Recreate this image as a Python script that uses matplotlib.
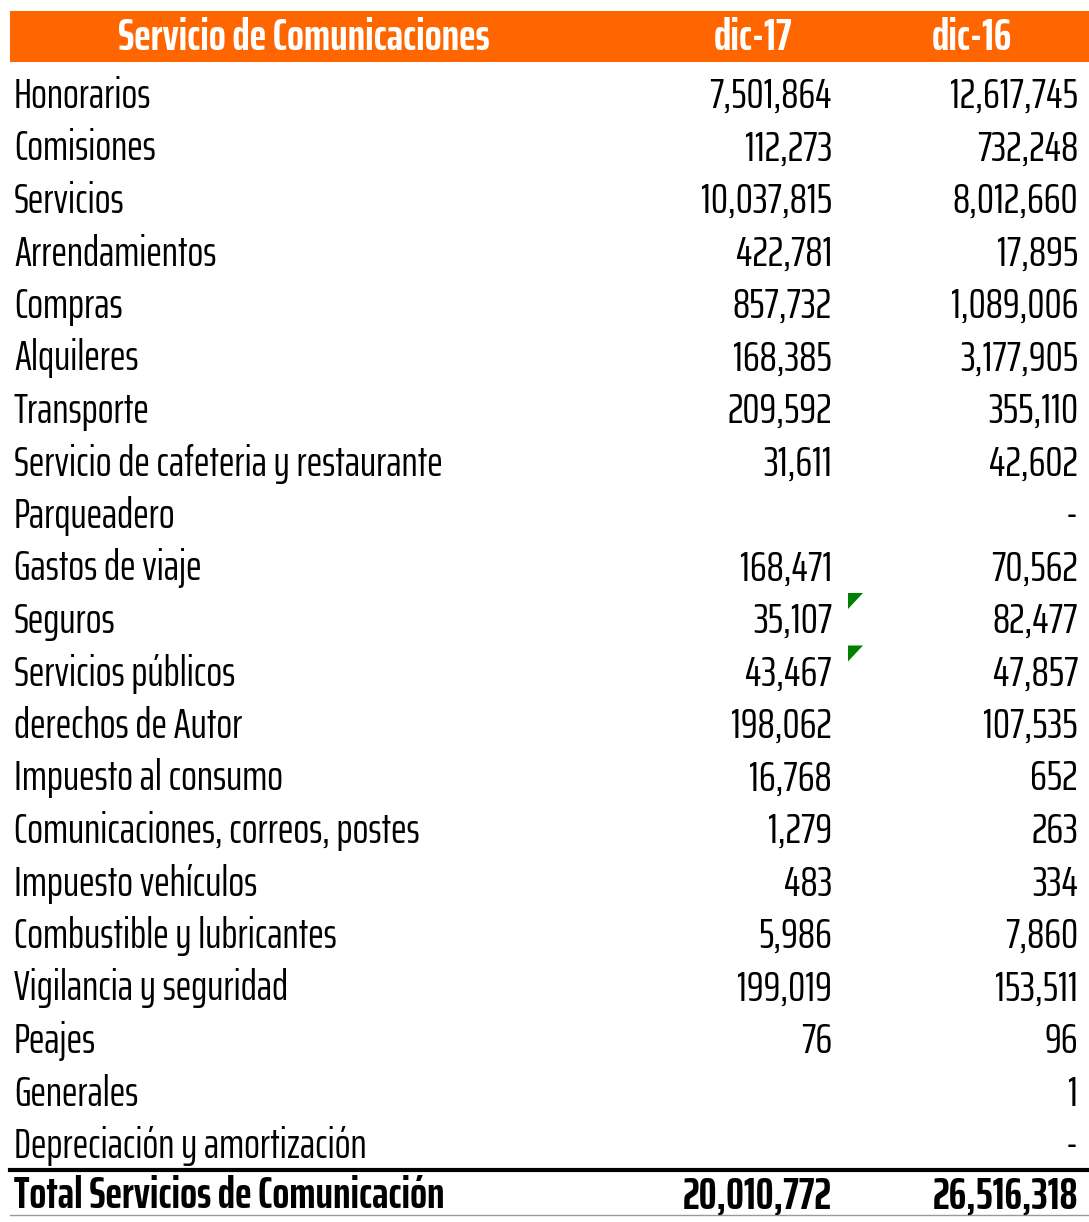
import matplotlib.pyplot as plt
from matplotlib.patches import Rectangle, Polygon

# Table data
title = "Servicio de Comunicaciones"
periods = ["dic-17", "dic-16"]
concepts = [
    "Honorarios", "Comisiones", "Servicios", "Arrendamientos", "Compras",
    "Alquileres", "Transporte", "Servicio de cafeteria y restaurante",
    "Parqueadero", "Gastos de viaje", "Seguros", "Servicios públicos",
    "derechos de Autor", "Impuesto al consumo",
    "Comunicaciones, correos, postes", "Impuesto vehículos",
    "Combustible y lubricantes", "Vigilancia y seguridad", "Peajes",
    "Generales", "Depreciación y amortización",
]
# None = blank cell, 0 = shown as "-"
dic17 = [7501864, 112273, 10037815, 422781, 857732, 168385, 209592, 31611,
         None, 168471, 35107, 43467, 198062, 16768, 1279, 483, 5986, 199019,
         76, None, None]
dic16 = [12617745, 732248, 8012660, 17895, 1089006, 3177905, 355110, 42602,
         0, 70562, 82477, 47857, 107535, 652, 263, 334, 7860, 153511,
         96, 1, 0]
total_label = "Total Servicios de Comunicación"
totals = [20010772, 26516318]
flagged = ["Seguros", "Servicios públicos"]  # cells with comment marker

plt.rcParams["font.family"] = ["Saira ExtraCondensed", "PT Sans Narrow", "DejaVu Sans"]

W, H = 1089, 1222
fig = plt.figure(figsize=(W / 100, H / 100), dpi=100)
ax = fig.add_axes([0, 0, 1, 1])
ax.set_xlim(0, W)
ax.set_ylim(H, 0)
ax.axis("off")


def fmt(v):
    if v is None:
        return ""
    if v == 0:
        return "-"
    return f"{v:,}"


fs = 30      # body rows
fsn = 31     # numbers
fsb = 32     # bold header / total

# header band
ax.add_patch(Rectangle((10, 11), W - 10, 51, color="#FF6600", lw=0))
ax.text(304, 34, title, color="white", fontsize=fsb, fontweight="bold",
        ha="center", va="center_baseline")
ax.text(753, 34, periods[0], color="white", fontsize=fsb, fontweight="bold",
        ha="center", va="center_baseline")
ax.text(972, 34, periods[1], color="white", fontsize=fsb, fontweight="bold",
        ha="center", va="center_baseline")

x17, x16 = 832, 1078
row0, step = 92, 52.5
for i, name in enumerate(concepts):
    y = row0 + step * i
    ax.text(14, y, name, fontsize=fs, ha="left", va="center_baseline")
    ax.text(x17, y, fmt(dic17[i]), fontsize=fsn, ha="right", va="center_baseline")
    ax.text(x16, y, fmt(dic16[i]), fontsize=fsn, ha="right", va="center_baseline")
    if name in flagged:
        ax.add_patch(Polygon([(848, y - 24), (863, y - 24), (848, y - 8)],
                             closed=True, color="#008000", lw=0))

# total row
ax.plot([10, W], [1170, 1170], color="black", lw=3)
yt = 1192
ax.text(14, yt, total_label, fontsize=fsb, fontweight="bold", ha="left", va="center_baseline")
ax.text(x17, yt, fmt(totals[0]), fontsize=fsb, fontweight="bold", ha="right", va="center_baseline")
ax.text(x16, yt, fmt(totals[1]), fontsize=fsb, fontweight="bold", ha="right", va="center_baseline")
ax.plot([10, W], [1215, 1215], color="#999999", lw=1)

fig.savefig("out.png", dpi=100)
